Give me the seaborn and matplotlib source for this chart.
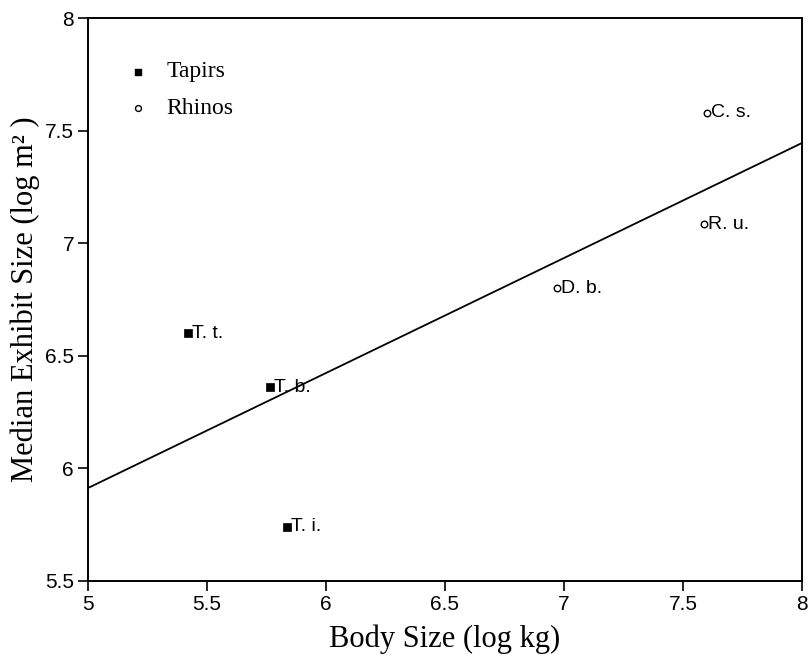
import pandas as pd
import numpy as np
import matplotlib.pyplot as plt
import seaborn as sns

sns.set_theme(style="white")
plt.rcParams["text.color"] = "black"
plt.rcParams["axes.labelcolor"] = "black"

# dados
especies = ["T. t.", "T. b.", "T. i.", "D. b.", "C. s.", "R. u."]
grupos = ["Tapirs", "Tapirs", "Tapirs", "Rhinos", "Rhinos", "Rhinos"]
corpo_log_kg = [5.42, 5.765, 5.835, 6.97, 7.60, 7.59]
recinto_log_m2 = [6.60, 6.36, 5.74, 6.80, 7.58, 7.085]

x_ticks = [5, 5.5, 6, 6.5, 7, 7.5, 8]
y_ticks = [5.5, 6, 6.5, 7, 7.5, 8]

df = pd.DataFrame({"especie": especies, "grupo": grupos,
                   "x": corpo_log_kg, "y": recinto_log_m2})

serif = ["Liberation Serif", "DejaVu Serif"]
sans = ["Liberation Sans", "DejaVu Sans"]

fig = plt.figure(figsize=(8.1, 6.6), dpi=100)
ax = fig.add_axes([0.1086, 0.1197, 0.8814, 0.8530])
ax.set_xlim(5, 8)
ax.set_ylim(5.5, 8)

# reta de regressao sobre todos os pontos, estendida ate os limites do eixo
sns.regplot(data=df, x="x", y="y", ax=ax, scatter=False, ci=None,
            truncate=False, color="black", line_kws={"lw": 1.3})

tap = df[df["grupo"] == "Tapirs"]
rhi = df[df["grupo"] == "Rhinos"]
sns.scatterplot(data=tap, x="x", y="y", ax=ax, marker="s", s=30,
                color="black", edgecolor="black", linewidth=0.5, zorder=3)
sns.scatterplot(data=rhi, x="x", y="y", ax=ax, marker="o", s=22,
                facecolor="white", edgecolor="black", linewidth=1.0, zorder=3)

for _, r in df.iterrows():
    ax.annotate(r["especie"], (r["x"], r["y"]), xytext=(3, 0),
                textcoords="offset points", ha="left", va="center",
                fontsize=14, family=sans, color="black")

# legenda manual (estilo do original)
ax.scatter(0.07, 0.905, transform=ax.transAxes, marker="s", s=22,
           color="black")
ax.scatter(0.07, 0.84, transform=ax.transAxes, marker="o", s=18,
           facecolor="white", edgecolor="black", linewidth=1.0)
ax.text(0.11, 0.905, "Tapirs", transform=ax.transAxes, va="center",
        ha="left", fontsize=17, family=serif)
ax.text(0.11, 0.84, "Rhinos", transform=ax.transAxes, va="center",
        ha="left", fontsize=17, family=serif)
ax.set_xlim(5, 8)
ax.set_ylim(5.5, 8)

ax.set_xticks(x_ticks)
ax.set_yticks(y_ticks)
ax.set_xticklabels([f"{v:g}" for v in x_ticks], family=sans, fontsize=15)
ax.set_yticklabels([f"{v:g}" for v in y_ticks], family=sans, fontsize=15)
ax.tick_params(axis="both", direction="out", length=7, width=1.2,
               color="black", labelcolor="black", pad=3,
               bottom=True, left=True, top=False, right=False)

for sp in ax.spines.values():
    sp.set_color("black")
    sp.set_linewidth(1.4)

ax.set_xlabel("Body Size (log kg)", family=serif, fontsize=22, labelpad=8)
ax.set_ylabel("Median Exhibit Size (log m² )", family=serif, fontsize=22,
              labelpad=4)
ax.grid(False)

fig.savefig("out.png", dpi=100, facecolor="white")
